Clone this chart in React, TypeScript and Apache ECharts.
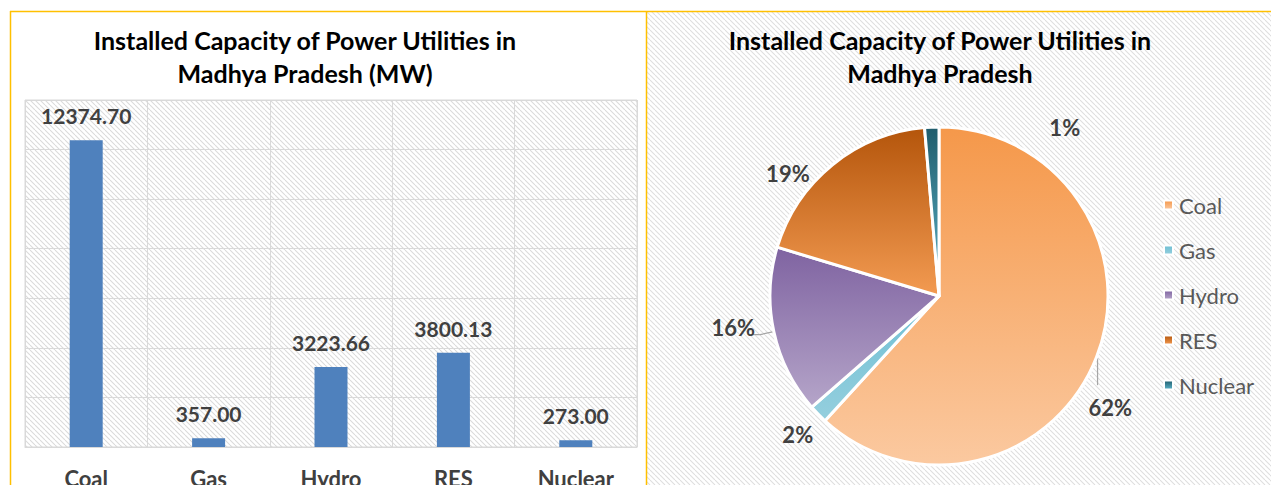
import React, { useEffect, useRef } from "react";
import * as echarts from "echarts";

const categories = ["Coal", "Gas", "Hydro", "RES", "Nuclear"];
const capacityMW = [12374.7, 357.0, 3223.66, 3800.13, 273.0];
const yTicks = { min: 0, max: 14000, interval: 2000 };
const barTitle = "Installed Capacity of Power Utilities in\nMadhya Pradesh (MW)";
const pieTitle = "Installed Capacity of Power Utilities in\nMadhya Pradesh";
const pieTop = ["#F5984A", "#6FBFD3", "#7F63A1", "#B4550B", "#1F5D6D"];
const pieBottom = ["#FBC9A0", "#95CFDE", "#B5A5C9", "#F39B52", "#5DB3C9"];
const pieLeaderShown = [true, false, true, false, false];
// label nudges (Excel "best fit" placement), in px
const pieLabelShift = [
  [-34, 45],
  [18, 11],
  [8, -7],
  [-1, 20],
  [162, 14],
];

const FONT = "Lato, 'Open Sans', sans-serif";

function makeHatch(bg: string, line: string) {
  const s = 5;
  const c = document.createElement("canvas");
  c.width = s;
  c.height = s;
  const ctx = c.getContext("2d")!;
  ctx.fillStyle = bg;
  ctx.fillRect(0, 0, s, s);
  ctx.strokeStyle = line;
  ctx.lineWidth = 1.1;
  for (const k of [-s, 0, s]) {
    ctx.beginPath();
    ctx.moveTo(k, 0);
    ctx.lineTo(k + s, s);
    ctx.stroke();
  }
  return c;
}

export default function App() {
  const ref = useRef<HTMLDivElement>(null);
  useEffect(() => {
    document.body.style.margin = "0";
    const chart = echarts.init(ref.current!, undefined, { renderer: "svg" });
    const hatch = makeHatch("#FFFFFF", "#DADADA");
    const hatch2 = makeHatch("#FFFFFF", "#DEDEDE");
    const pieData = categories.map((name, i) => ({
      name,
      value: capacityMW[i],
      labelLine: { show: pieLeaderShown[i] },
      itemStyle: {
        color: new echarts.graphic.LinearGradient(0, 0, 0, 1, [
          { offset: 0, color: pieTop[i] },
          { offset: 1, color: pieBottom[i] },
        ]),
      },
    }));
    const titleStyle = { fontFamily: FONT, fontWeight: "bold", fontSize: 25, lineHeight: 33, color: "#000000" };
    chart.setOption({
      animation: false,
      backgroundColor: "#FFFFFF",
      textStyle: { fontFamily: FONT },
      graphic: [
        {
          type: "rect",
          z: -1,
          shape: { x: 647, y: 12, width: 624, height: 473 },
          style: { fill: { image: hatch2, repeat: "repeat" } as any },
        },
        { type: "line", shape: { x1: 10, y1: 11.5, x2: 1271, y2: 11.5 }, style: { stroke: "#FFC000", lineWidth: 1.5 } },
        { type: "line", shape: { x1: 10.5, y1: 11, x2: 10.5, y2: 485 }, style: { stroke: "#FFC000", lineWidth: 1.5 } },
        { type: "line", shape: { x1: 646.5, y1: 11, x2: 646.5, y2: 485 }, style: { stroke: "#FFC000", lineWidth: 1.5 } },
      ],
      title: [
        { text: barTitle, left: 305, textAlign: "center", top: 23, padding: 0, textStyle: titleStyle },
        { text: pieTitle, left: 940, textAlign: "center", top: 23, padding: 0, textStyle: titleStyle },
      ],
      legend: {
        orient: "vertical",
        left: 1163,
        top: 194,
        padding: 0,
        itemWidth: 9,
        itemHeight: 9,
        itemGap: 23,
        icon: "rect",
        textStyle: { fontFamily: FONT, fontSize: 22, lineHeight: 22, color: "#595959", padding: [0, 0, 0, 1] },
        data: categories,
      },
      grid: {
        left: 25,
        top: 100,
        right: 634,
        bottom: 38,
        outerBoundsMode: "none",
        containLabel: false,
        show: true,
        backgroundColor: { image: hatch, repeat: "repeat" } as any,
        borderColor: "#D9D9D9",
        borderWidth: 1,
      },
      xAxis: {
        type: "category",
        data: categories,
        axisTick: { show: false },
        axisLine: { lineStyle: { color: "#D9D9D9" } },
        splitLine: { show: true, lineStyle: { color: "#D9D9D9", width: 1 } },
        axisLabel: { fontFamily: FONT, fontWeight: "bold", fontSize: 22, color: "#404040", margin: 20 },
      },
      yAxis: {
        type: "value",
        min: yTicks.min,
        max: yTicks.max,
        interval: yTicks.interval,
        axisLabel: { show: false },
        axisLine: { show: false },
        axisTick: { show: false },
        splitLine: { lineStyle: { color: "#D9D9D9", width: 1 } },
      },
      series: [
        {
          type: "bar",
          data: capacityMW,
          barWidth: 33,
          itemStyle: { color: "#4F81BD" },
          label: {
            show: true,
            position: "top",
            distance: 14,
            fontFamily: FONT,
            fontWeight: "bold",
            fontSize: 21,
            color: "#404040",
            formatter: (p: any) => Number(p.value).toFixed(2),
          },
        },
        {
          type: "pie",
          center: [939, 296],
          radius: 169,
          startAngle: 90,
          clockwise: true,
          percentPrecision: 0,
          data: pieData,
          itemStyle: { borderColor: "#FFFFFF", borderWidth: 3 },
          label: {
            show: true,
            position: "outside",
            formatter: "{d}%",
            fontFamily: FONT,
            fontWeight: "bold",
            fontSize: 22,
            color: "#404040",
          },
          labelLine: { show: true, length: 14, length2: 8, lineStyle: { color: "#A6A6A6", width: 1.2 } },
          labelLayout: (p: any) => {
            const s = pieLabelShift[p.dataIndex] || [0, 0];
            const out: any = { dx: s[0], dy: s[1] };
            if (p.dataIndex === 0 && p.labelLinePoints && p.labelLinePoints.length) {
              const p0 = p.labelLinePoints[0];
              out.labelLinePoints = [
                [p0[0] + 1, p0[1] + 1],
                [p0[0] + 1, p0[1] + 28],
              ];
            }
            return out;
          },
        },
      ],
    });
    return () => chart.dispose();
  }, []);
  return <div ref={ref} style={{ width: 1271, height: 485 }} />;
}
